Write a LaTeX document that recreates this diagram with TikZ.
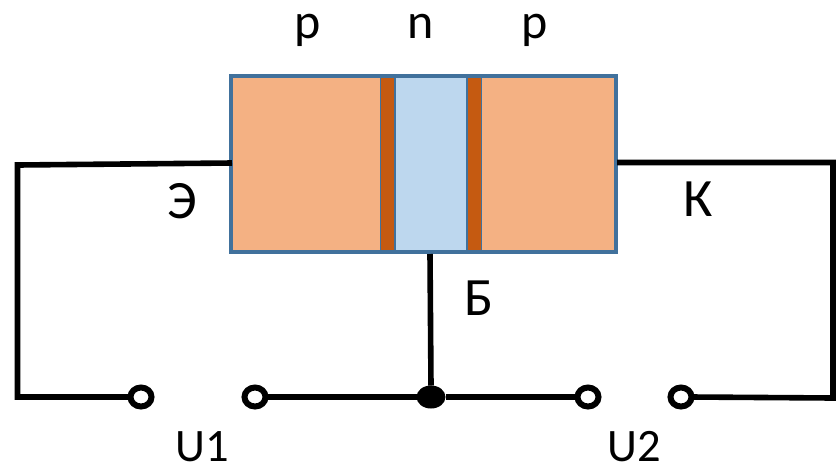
\documentclass[tikz,border=0pt]{standalone}
\usepackage{fontspec}
\setmainfont{Carlito}
\usetikzlibrary{shapes.geometric}
\definecolor{orangezone}{HTML}{F4B183}
\definecolor{darkzone}{HTML}{C55A11}
\definecolor{bluezone}{HTML}{BDD7EE}
\definecolor{edgeblue}{HTML}{41719C}
\tikzset{
  zone/.style={rectangle,inner sep=0pt,outer sep=0pt,minimum height=174pt},
  wire/.style={draw=black,line width=5.6pt,line join=miter},
  terminal/.style={ellipse,draw=black,fill=white,line width=6pt,inner sep=0pt,outer sep=0pt,minimum width=21pt,minimum height=19pt},
  junction/.style={ellipse,fill=black,inner sep=0pt,outer sep=0pt,minimum width=29pt,minimum height=23pt},
  lbl/.style={inner sep=0pt,anchor=base,text=black},
  small/.style={lbl,font=\fontsize{50}{50}\selectfont},
  cyr/.style={lbl,font=\fontsize{54}{54}\selectfont},
  volt/.style={lbl,font=\fontsize{46.5}{46.5}\selectfont}
}
\begin{document}
\begin{tikzpicture}[x=1pt,y=-1pt]
\useasboundingbox (0,0) rectangle (836,467);
\fill[white] (0,0) rectangle (836,467);
% semiconductor body
\node[zone,fill=orangezone,minimum width=385pt] (body) at (423.5,164) {};
\node[zone,fill=darkzone,minimum width=15pt] (jl) at (387.5,164) {};
\node[zone,fill=bluezone,minimum width=73pt] (mid) at (430.5,164) {};
\node[zone,fill=darkzone,minimum width=15pt] (jr) at (474,164) {};
\draw[edgeblue,line width=2pt] (jl.north east) -- (jl.south east);
\draw[edgeblue,line width=2pt] (jr.north west) -- (jr.south west);
\draw[edgeblue,line width=1pt] (jl.north west) -- (jl.south west);
\draw[edgeblue,line width=1pt] (jr.north east) -- (jr.south east);
\node[rectangle,draw=edgeblue,line width=3.8pt,inner sep=0pt,outer sep=0pt,minimum width=385pt,minimum height=176pt] (frame) at (423.5,164) {};
% terminals
\coordinate (eS) at (232,163);
\coordinate (cS) at (617,162.5);
\coordinate (bS) at (430,254);
\coordinate (lt) at (17.5,165);
\coordinate (lb) at (17.5,397);
\coordinate (rt) at (833,162.5);
\coordinate (rb) at (833,398);
\node[terminal] (t1) at (141,397) {};
\node[terminal] (t2) at (255,397) {};
\node[junction] (j) at (431,397) {};
\node[terminal] (t3) at (588,397) {};
\node[terminal] (t4) at (681,397) {};
% wires
\draw[wire] (eS) -- (lt) -- (lb) -- (t1.west);
\draw[wire] (cS) -- (rt) -- (rb) -- (t4.east);
\draw[wire] (bS) -- (j.north);
\draw[wire] (t2.east) -- (j.west);
\draw[wire] (j.east) -- (t3.west);
% labels
\node[small] (lp1) at (308,38) {p};
\node[small] (ln) at (421,38) {n};
\node[small] (lp2) at (535,38) {p};
\node[cyr] (le) at (182,218) {Э};
\node[cyr] (lk) at (698,216) {К};
\node[cyr] (lb2) at (479,315) {Б};
\node[volt] (lu1) at (202,461) {U1};
\node[volt] (lu2) at (634,461) {U2};
\end{tikzpicture}
\end{document}
